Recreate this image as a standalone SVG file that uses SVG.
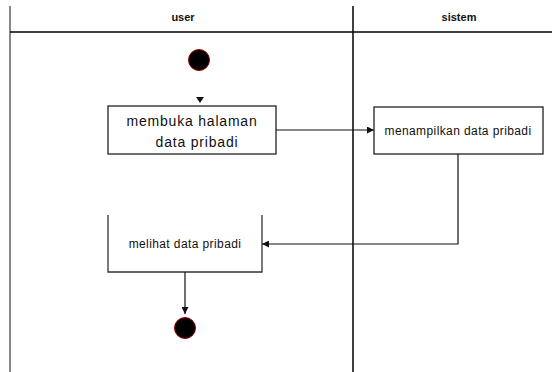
<svg xmlns="http://www.w3.org/2000/svg" width="552" height="372" viewBox="0 0 552 372">
  <style>
    .lane { stroke: #000; stroke-width: 1.5; fill: none; }
    .box { fill: #fff; stroke: #222; stroke-width: 1.3; }
    .open { fill: none; stroke: #333; stroke-width: 1.3; }
    .edge { fill: none; stroke: #111; stroke-width: 1.2; }
    .dot { fill: #000; stroke: #900; stroke-width: 1; }
    text { font-family: "Liberation Sans", Arial, sans-serif; fill: #111; text-anchor: middle; }
    .hdr { font-size: 11px; font-weight: bold; }
    .lbl { font-size: 14px; letter-spacing: 0.8px; }
    .sm { font-size: 12px; letter-spacing: 0.4px; }
  </style>
  <defs>
    <marker id="arrow" viewBox="0 0 10 10" refX="10" refY="5" markerWidth="7" markerHeight="7" orient="auto" markerUnits="userSpaceOnUse">
      <path d="M0,0 L10,5 L0,10 Z" fill="#111"/>
    </marker>
  </defs>
  <rect width="552" height="372" fill="#fff"/>

  <!-- swimlanes -->
  <g id="lanes">
    <line x1="10" y1="6" x2="10" y2="372" stroke="#888" stroke-width="2"/>
    <line class="lane" x1="353" y1="6" x2="353" y2="372"/>
    <line class="lane" x1="10" y1="32" x2="552" y2="32"/>
    <text class="hdr" x="183" y="21">user</text>
    <text class="hdr" x="459" y="21">sistem</text>
  </g>

  <g id="start">
    <circle class="dot" cx="199" cy="60" r="10.5"/>
  </g>

  <g id="membuka">
    <rect class="box" x="108" y="106" width="168" height="48"/>
    <text class="lbl" x="192" y="126">membuka halaman</text>
    <text class="lbl" x="197" y="147">data pribadi</text>
  </g>

  <g id="menampilkan">
    <rect class="box" x="374" y="107" width="169" height="47"/>
    <text class="sm" x="458" y="135">menampilkan data pribadi</text>
  </g>

  <g id="melihat">
    <path class="open" d="M108,215 V272 H262 V215"/>
    <text class="sm" x="185" y="248">melihat data pribadi</text>
  </g>

  <g id="end">
    <circle class="dot" cx="185" cy="328" r="10.5"/>
  </g>

  <g id="connectors">
    <path d="M196,97 L204,97 L200,103 Z" fill="#111"/>
    <line class="edge" x1="276" y1="130" x2="374" y2="130" marker-end="url(#arrow)"/>
    <path class="edge" d="M458,154 V244 H262" marker-end="url(#arrow)"/>
    <line class="edge" x1="185" y1="272" x2="185" y2="314" stroke="#444" stroke-width="1.5" marker-end="url(#arrow)"/>
  </g>
</svg>
